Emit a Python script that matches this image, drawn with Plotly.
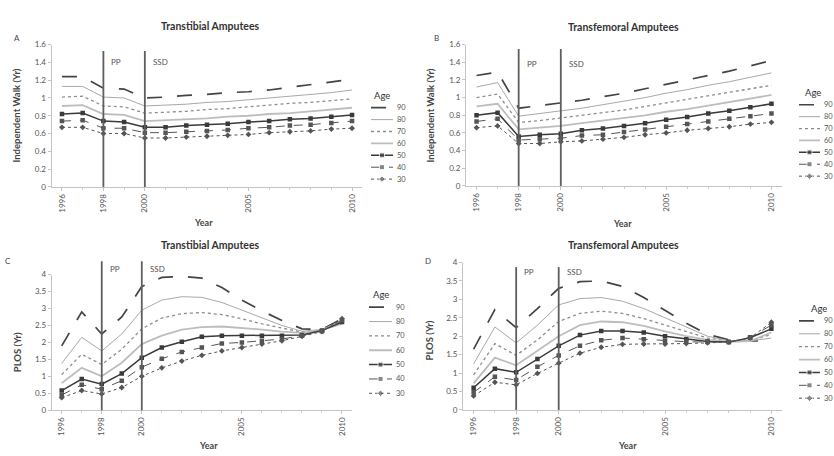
import plotly.graph_objects as go

W, H = 834, 456

years = list(range(1996, 2011))
ages = ["90", "80", "70", "60", "50", "40", "30"]

walk_ticks = [0, 0.2, 0.4, 0.6, 0.8, 1.0, 1.2, 1.4, 1.6]
walk_labels = ["0", "0.2", "0.4", "0.6", "0.8", "1", "1.2", "1.4", "1.6"]
plos_ticks = [0, 0.5, 1, 1.5, 2, 2.5, 3, 3.5, 4]
plos_labels = ["0", "0.5", "1", "1.5", "2", "2.5", "3", "3.5", "4"]
year_ticks = [1996, 1998, 2000, 2005, 2010]
policy_years = [1998, 2000]
policy_labels = ["PP", "SSD"]

# Panel A: Transtibial, Independent Walk
A90 = [1.24, 1.24, 1.11, 1.10, 1.00, 1.01, 1.03, 1.04, 1.06, 1.07, 1.09, 1.12, 1.15, 1.18, 1.21]
A80 = [1.13, 1.13, 1.01, 1.00, 0.91, 0.92, 0.93, 0.95, 0.96, 0.98, 1.00, 1.02, 1.04, 1.06, 1.09]
A70 = [1.01, 1.02, 0.91, 0.90, 0.83, 0.84, 0.85, 0.87, 0.88, 0.90, 0.92, 0.94, 0.95, 0.97, 0.99]
A60 = [0.91, 0.92, 0.82, 0.81, 0.74, 0.75, 0.76, 0.77, 0.79, 0.80, 0.82, 0.83, 0.85, 0.87, 0.89]
A50 = [0.82, 0.83, 0.74, 0.73, 0.67, 0.67, 0.69, 0.70, 0.71, 0.73, 0.74, 0.76, 0.77, 0.79, 0.81]
A40 = [0.74, 0.75, 0.66, 0.66, 0.61, 0.61, 0.62, 0.63, 0.64, 0.66, 0.67, 0.69, 0.70, 0.72, 0.74]
A30 = [0.67, 0.67, 0.60, 0.60, 0.55, 0.55, 0.56, 0.57, 0.58, 0.59, 0.61, 0.62, 0.63, 0.65, 0.66]

# Panel B: Transfemoral, Independent Walk
B90 = [1.25, 1.29, 0.88, 0.91, 0.94, 0.97, 1.01, 1.05, 1.10, 1.15, 1.20, 1.25, 1.30, 1.36, 1.42]
B80 = [1.12, 1.17, 0.79, 0.82, 0.85, 0.88, 0.92, 0.96, 1.00, 1.05, 1.09, 1.14, 1.18, 1.23, 1.28]
B70 = [1.00, 1.04, 0.72, 0.74, 0.77, 0.80, 0.83, 0.86, 0.90, 0.94, 0.98, 1.02, 1.06, 1.10, 1.14]
B60 = [0.90, 0.93, 0.64, 0.66, 0.68, 0.71, 0.74, 0.77, 0.80, 0.84, 0.87, 0.91, 0.95, 0.99, 1.03]
B50 = [0.80, 0.83, 0.56, 0.58, 0.59, 0.63, 0.65, 0.68, 0.71, 0.75, 0.78, 0.82, 0.85, 0.89, 0.93]
B40 = [0.73, 0.76, 0.52, 0.53, 0.54, 0.57, 0.58, 0.61, 0.64, 0.67, 0.70, 0.73, 0.76, 0.79, 0.82]
B30 = [0.66, 0.68, 0.48, 0.48, 0.50, 0.51, 0.53, 0.55, 0.58, 0.60, 0.63, 0.65, 0.67, 0.70, 0.72]

# Panel C: Transtibial, PLOS
C90 = [1.90, 2.90, 2.25, 2.75, 3.65, 3.92, 3.95, 3.90, 3.62, 3.25, 2.93, 2.65, 2.40, 2.38, 2.70]
C80 = [1.38, 2.15, 1.75, 2.25, 2.95, 3.25, 3.35, 3.33, 3.18, 2.95, 2.72, 2.50, 2.33, 2.38, 2.65]
C70 = [1.05, 1.65, 1.35, 1.80, 2.40, 2.72, 2.85, 2.88, 2.82, 2.70, 2.55, 2.42, 2.30, 2.38, 2.60]
C60 = [0.80, 1.25, 1.00, 1.40, 1.95, 2.20, 2.38, 2.45, 2.47, 2.43, 2.38, 2.32, 2.28, 2.37, 2.55]
C50 = [0.58, 0.92, 0.77, 1.08, 1.55, 1.85, 2.02, 2.17, 2.20, 2.20, 2.20, 2.20, 2.22, 2.35, 2.60]
C40 = [0.45, 0.75, 0.62, 0.87, 1.27, 1.52, 1.72, 1.85, 1.97, 2.00, 2.05, 2.10, 2.20, 2.33, 2.65]
C30 = [0.37, 0.58, 0.48, 0.67, 1.00, 1.25, 1.45, 1.62, 1.75, 1.85, 1.95, 2.05, 2.18, 2.32, 2.70]

# Panel D: Transfemoral, PLOS
D90 = [1.65, 2.72, 2.23, 2.75, 3.30, 3.48, 3.50, 3.35, 3.05, 2.70, 2.35, 2.05, 1.90, 1.87, 1.88]
D80 = [1.25, 2.25, 1.82, 2.30, 2.85, 3.02, 3.05, 2.95, 2.75, 2.50, 2.25, 2.00, 1.88, 1.87, 1.95]
D70 = [0.95, 1.80, 1.48, 1.90, 2.40, 2.62, 2.68, 2.62, 2.48, 2.30, 2.12, 1.95, 1.87, 1.87, 2.05]
D60 = [0.72, 1.42, 1.21, 1.60, 2.00, 2.30, 2.40, 2.38, 2.28, 2.13, 2.00, 1.90, 1.85, 1.87, 2.10]
D50 = [0.60, 1.12, 1.02, 1.38, 1.74, 2.03, 2.14, 2.14, 2.10, 2.00, 1.92, 1.86, 1.84, 1.96, 2.20]
D40 = [0.48, 0.90, 0.81, 1.17, 1.48, 1.74, 1.89, 1.95, 1.92, 1.88, 1.85, 1.84, 1.84, 1.97, 2.30]
D30 = [0.38, 0.75, 0.68, 0.99, 1.27, 1.54, 1.70, 1.78, 1.79, 1.79, 1.80, 1.82, 1.84, 1.95, 2.38]

styles = [
    dict(color="#444444", width=1.7, dash="longdash", symbol=None),
    dict(color="#a8a8a8", width=1.0, dash="solid", symbol=None),
    dict(color="#8c8c8c", width=1.3, dash="dot", symbol=None),
    dict(color="#bdbdbd", width=1.8, dash="solid", symbol=None),
    dict(color="#3a3a3a", width=1.5, dash="solid", symbol="square"),
    dict(color="#555555", width=1.0, dash="dash", symbol="square"),
    dict(color="#555555", width=1.0, dash="dot", symbol="diamond"),
]


def px(x):
    return x / W


def py(y):
    return 1 - y / H


panels = [
    dict(series=[A90, A80, A70, A60, A50, A40, A30], xd=(51.6, 362.4), yd=(186, 40.5),
         yr=(0, 1.6), tv=walk_ticks, tt=walk_labels, ytitle="Independent Walk (Yr)",
         title="Transtibial Amputees", title_xy=(210, 21), letter="A", letter_xy=(17, 34),
         vtop=47, txt_y=58, yt_xy=(17, 113), xt_xy=(203, 222),
         leg_title_dx=11, leg_y=(105, 178), leg_x=(371, 393)),
    dict(series=[B90, B80, B70, B60, B50, B40, B30], xd=(466, 782), yd=(185, 40.5),
         yr=(0, 1.6), tv=walk_ticks, tt=walk_labels, ytitle="Independent Walk (Yr)",
         title="Transfemoral Amputees", title_xy=(623, 22), letter="B", letter_xy=(436, 34),
         vtop=45, txt_y=60, yt_xy=(431, 113), xt_xy=(622, 223),
         leg_title_dx=14, leg_y=(102, 175), leg_x=(799, 820)),
    dict(series=[C90, C80, C70, C60, C50, C40, C30], xd=(51.7, 352), yd=(414.3, 275.7),
         yr=(0, 4), tv=plos_ticks, tt=plos_labels, ytitle="PLOS (Yr)",
         title="Transtibial Amputees", title_xy=(210, 245), letter="C", letter_xy=(8, 262),
         vtop=262, txt_y=270, yt_xy=(17, 355), xt_xy=(208, 450),
         leg_title_dx=12, leg_y=(309, 397), leg_x=(369, 392)),
    dict(series=[D90, D80, D70, D60, D50, D40, D30], xd=(463, 782), yd=(414, 263.3),
         yr=(0, 4), tv=plos_ticks, tt=plos_labels, ytitle="PLOS (Yr)",
         title="Transfemoral Amputees", title_xy=(623, 245), letter="D", letter_xy=(428, 262),
         vtop=268, txt_y=273, yt_xy=(429, 343), xt_xy=(627, 450),
         leg_title_dx=20, leg_y=(323, 402), leg_x=(799, 820)),
]

FONT = "Lato, 'Open Sans', Arial, sans-serif"
fig = go.Figure()
annotations = []
shapes = []
layout = {}


def paper_text(x, y, text, size, color="#444", angle=0):
    return dict(x=px(x), y=py(y), xref="paper", yref="paper", text=text, showarrow=False,
                xanchor="center", yanchor="middle", textangle=angle,
                font=dict(size=size, color=color, family=FONT))


for i, p in enumerate(panels):
    n = i + 1
    xa = "x" if n == 1 else f"x{n}"
    ya = "y" if n == 1 else f"y{n}"
    for s, age, st in zip(p["series"], ages, styles):
        mode = "lines+markers" if st["symbol"] else "lines"
        fig.add_trace(go.Scatter(
            x=years, y=s, mode=mode, name=age, showlegend=False,
            line=dict(color=st["color"], width=st["width"], dash=st["dash"]),
            marker=dict(symbol=st["symbol"] or "circle", size=4.5, color=st["color"]),
            xaxis=xa, yaxis=ya))
    layout[f"xaxis{'' if n == 1 else n}"] = dict(
        domain=[px(p["xd"][0]), px(p["xd"][1])], anchor=ya,
        range=[1995.5, 2010.5], tickvals=year_ticks, ticktext=[str(v) for v in year_ticks],
        tickangle=-90, tickfont=dict(size=8, color="#555", family=FONT),
        showline=True, linecolor="#c4c4c4", linewidth=1, ticks="outside", ticklen=3,
        tickcolor="#c4c4c4", showgrid=False, zeroline=False,
        minor=dict(tick0=1996, dtick=1, ticks="outside", ticklen=2, tickcolor="#cfcfcf"),
    )
    layout[f"yaxis{'' if n == 1 else n}"] = dict(
        domain=[py(p["yd"][0]), py(p["yd"][1])], anchor=xa,
        range=list(p["yr"]), tickvals=p["tv"], ticktext=p["tt"],
        tickfont=dict(size=8, color="#555", family=FONT),
        showline=True, linecolor="#c4c4c4", linewidth=1, ticks="outside", ticklen=3,
        tickcolor="#c4c4c4", showgrid=False, zeroline=False,
    )
    # policy lines
    for yv, lab in zip(policy_years, policy_labels):
        shapes.append(dict(type="line", xref=xa, yref="paper", x0=yv, x1=yv,
                           y0=py(p["yd"][0]), y1=py(p["vtop"]),
                           line=dict(color="#5e5e5e", width=1.8)))
        annotations.append(dict(x=yv, y=py(p["txt_y"]), xref=xa, yref="paper",
                                text=lab, showarrow=False, xanchor="left", yanchor="middle",
                                xshift=6, font=dict(size=8, color="#555", family=FONT)))
    # titles and labels
    annotations.append(paper_text(*p["title_xy"], f"<b>{p['title']}</b>", 10.5, "#333"))
    annotations.append(paper_text(*p["letter_xy"], p["letter"], 8))
    annotations.append(paper_text(*p["yt_xy"], f"<b>{p['ytitle']}</b>", 9.5, angle=-90))
    annotations.append(paper_text(*p["xt_xy"], "<b>Year</b>", 9))
    # custom legend on a hidden axis pair
    ln = n + 4
    lxa, lya = f"x{ln}", f"y{ln}"
    y0, y1 = p["leg_y"]
    step = (y1 - y0) / 6
    layout[f"xaxis{ln}"] = dict(domain=[px(p["leg_x"][0]), px(p["leg_x"][1])], range=[0, 1],
                                visible=False, anchor=lya, fixedrange=True)
    layout[f"yaxis{ln}"] = dict(domain=[py(y1 + step / 2), py(y0 - step / 2)],
                                range=[6.5, -0.5], visible=False, anchor=lxa, fixedrange=True)
    for k, (age, st) in enumerate(zip(ages, styles)):
        fig.add_trace(go.Scatter(
            x=[0, 0.5, 1], y=[k, k, k], mode="lines+markers" if st["symbol"] else "lines",
            showlegend=False, hoverinfo="skip",
            line=dict(color=st["color"], width=st["width"], dash=st["dash"]),
            marker=dict(symbol=st["symbol"] or "circle", size=[0, 5, 0], color=st["color"]),
            xaxis=lxa, yaxis=lya))
        annotations.append(dict(x=1, y=k, xref=lxa, yref=lya, text=age, showarrow=False,
                                xanchor="left", yanchor="middle", xshift=2,
                                font=dict(size=7.5, color="#555", family=FONT)))
    # legend title, anchored to the legend axes
    annotations.append(dict(x=0, y=0, xref=lxa, yref=lya, text="Age", showarrow=False,
                            xanchor="center", yanchor="bottom", xshift=p["leg_title_dx"],
                            yshift=5, font=dict(size=9.5, color="#333", family=FONT)))

fig.update_layout(
    width=W, height=H, margin=dict(l=0, r=0, t=0, b=0),
    paper_bgcolor="white", plot_bgcolor="white",
    annotations=annotations, shapes=shapes, showlegend=False,
    font=dict(family=FONT), **layout,
)

fig.write_html("out.html")
